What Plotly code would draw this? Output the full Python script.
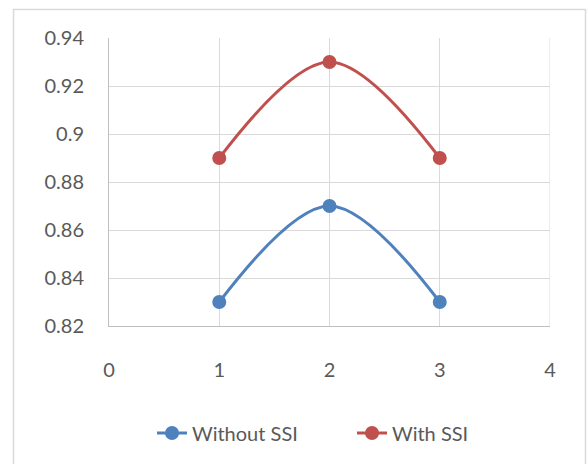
import plotly.graph_objects as go

x_vals = [1, 2, 3]
without_ssi = [0.83, 0.87, 0.83]
with_ssi = [0.89, 0.93, 0.89]
series_names = ["Without SSI", "With SSI"]
series_colors = ["#4F81BD", "#C0504D"]

W, H = 587, 464
ML, MR, MT, MB = 109, 37, 38, 138
pw = W - ML - MR
ph = H - MT - MB

def px_x(px):
    return (px - ML) / pw

def px_y(py):
    return (MT + ph - py) / ph

font = dict(family="Lato, Open Sans, sans-serif", size=20, color="#595959")

fig = go.Figure()
legend_ids = ["legend", "legend2"]
for name, ys, col, lg in zip(series_names, [without_ssi, with_ssi], series_colors, legend_ids):
    fig.add_trace(go.Scatter(
        x=x_vals, y=ys, name=name, mode="lines+markers", legend=lg,
        line=dict(color=col, width=3, shape="spline", smoothing=1.0),
        marker=dict(color=col, size=14, symbol="circle"),
    ))

fig.update_layout(
    width=W, height=H,
    margin=dict(l=ML, r=MR, t=MT, b=MB),
    paper_bgcolor="white", plot_bgcolor="white",
    font=font,
    showlegend=True,
    legend=dict(orientation="h", x=px_x(152), xanchor="left",
                y=px_y(433), yanchor="middle", font=font, bgcolor="rgba(0,0,0,0)"),
    legend2=dict(orientation="h", x=px_x(352), xanchor="left",
                 y=px_y(433), yanchor="middle", font=font, bgcolor="rgba(0,0,0,0)"),
    xaxis=dict(range=[0, 4], dtick=1, tick0=0, showgrid=True, gridcolor="#D9D9D9",
               gridwidth=1, zeroline=False, showline=True, linecolor="#BFBFBF",
               linewidth=1, ticks="", ticklabelstandoff=26, fixedrange=True),
    yaxis=dict(range=[0.82, 0.94], dtick=0.02, tick0=0.82, showgrid=True,
               gridcolor="#D9D9D9", gridwidth=1, zeroline=False, showline=True,
               linecolor="#BFBFBF", linewidth=1, ticks="", ticklabelstandoff=20,
               tickformat="~g", fixedrange=True),
)
# right edge of the grid
fig.add_shape(type="line", xref="x", yref="y", x0=4, x1=4, y0=0.82, y1=0.94,
              line=dict(color="#D9D9D9", width=1), layer="below")

# outer chart border
fig.add_shape(type="rect", xref="paper", yref="paper",
              x0=px_x(13.5), x1=px_x(585.5), y0=px_y(470), y1=px_y(9.5),
              line=dict(color="#D9D9D9", width=1.5), layer="below")

fig.write_html("out.html")
